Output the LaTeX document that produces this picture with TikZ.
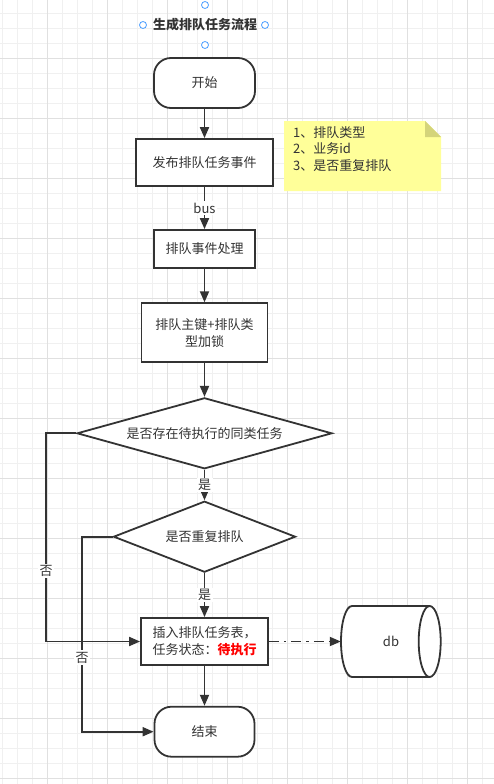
\documentclass[tikz,border=0pt]{standalone}
\usepackage{fontspec}
\setmainfont{Noto Sans CJK SC}
\usetikzlibrary{shapes.geometric,arrows.meta}
\definecolor{ink}{HTML}{333333}
\definecolor{gridminor}{HTML}{F0F0F0}
\definecolor{gridmajor}{HTML}{E0E0E0}
\definecolor{notefill}{HTML}{FFFF99}
\definecolor{notefold}{HTML}{D4D47A}
\definecolor{handle}{HTML}{4A9EFF}
\begin{document}
\begin{tikzpicture}[x=1pt,y=-1pt,font=\fontsize{13}{17}\selectfont,text=ink,
    box/.style={draw=ink,line width=1.8pt,fill=white,inner sep=0pt},
    proc/.style={box,rectangle},
    term/.style={box,rectangle,rounded corners=17pt},
    dec/.style={box,diamond},
    arr/.style={draw=ink,line width=1.8pt,-{Triangle[length=11pt,width=9pt]}},
    lbl/.style={fill=white,inner sep=1.5pt}]
  \fill[white] (0,0) rectangle (494,784);
  \useasboundingbox (0,0) rectangle (494,784);
  \foreach \x in {2.3,17.3,...,494} \draw[gridminor] (\x,0) -- (\x,784);
  \foreach \y in {13.3,28.3,...,784} \draw[gridminor] (0,\y) -- (494,\y);
  \foreach \x in {47.3,107.3,...,494} \draw[gridmajor] (\x,0) -- (\x,784);
  \foreach \y in {58.3,118.3,...,784} \draw[gridmajor] (0,\y) -- (494,\y);

  \node[font=\fontsize{13}{17}\selectfont\bfseries] (title) at (205,25) {生成排队任务流程};
  \foreach \p in {(205,5),(205,45),(143,25),(265,25)}
    \draw[handle,fill=white,line width=0.8pt] \p circle (3.5);

  \node[term,minimum width=101pt,minimum height=50pt] (start) at (204.5,83) {开始};
  \node[proc,minimum width=137pt,minimum height=47pt] (pub) at (204.5,162.5) {发布排队任务事件};
  \node[proc,minimum width=101pt,minimum height=38pt] (evt) at (204.5,249) {排队事件处理};
  \node[proc,minimum width=126pt,minimum height=59pt,align=center] (lock) at (204.5,332.7) {排队主键+排队类\\型加锁};
  \node[dec,aspect=3.6,minimum width=255pt,minimum height=71pt] (d1) at (204.5,433.3) {是否存在待执行的同类任务};
  \node[dec,aspect=2.5,minimum width=182pt,minimum height=71pt] (d2) at (204.5,536.7) {是否重复排队};
  \node[proc,minimum width=127pt,minimum height=47pt,align=center] (ins) at (204.5,641.5) {插入排队任务表，\\任务状态：\textbf{\color{red}待执行}};
  \node[term,minimum width=100pt,minimum height=50pt] (fin) at (204.5,731.7) {结束};

  \draw[box] (352,606) arc (270:90:11 and 35.5) -- (429.7,677) arc (90:-90:11 and 35.5) -- cycle;
  \draw[box] (429.7,606) arc (270:90:11 and 35.5);
  \node[minimum width=100pt,minimum height=71pt,inner sep=0pt] (db) at (391,641.5) {db};

  \fill[notefill] (284,121) -- (425,121) -- (441,137) -- (441,191) -- (284,191) -- cycle;
  \fill[notefold] (425,121) -- (425,137) -- (441,137) -- cycle;
  \node[anchor=west,align=left,inner sep=0pt,font=\fontsize{13}{16.5}\selectfont] (memo) at (293,149) {1、排队类型\\2、业务id\\3、是否重复排队};

  \coordinate (n1) at (46,433.3);
  \coordinate (n2) at (82,536.7);
  \draw[arr] (start) -- (pub);
  \draw[arr] (pub) -- node[lbl] {bus} (evt);
  \draw[arr] (evt) -- (lock);
  \draw[arr] (lock) -- (d1);
  \draw[arr] (d1) -- node[lbl] {是} (d2);
  \draw[arr] (d2) -- node[lbl] {是} (ins);
  \draw[arr] (ins) -- (fin);
  \draw[arr] (d1.west) -- (n1) |- node[lbl,pos=0.33] {否} (ins.west);
  \draw[arr] (d2.west) -- (n2) |- node[lbl,pos=0.31] {否} (fin.west);
  \draw[arr,dash pattern=on 10pt off 5pt on 2.5pt off 5pt] (ins) -- (db);
\end{tikzpicture}
\end{document}
